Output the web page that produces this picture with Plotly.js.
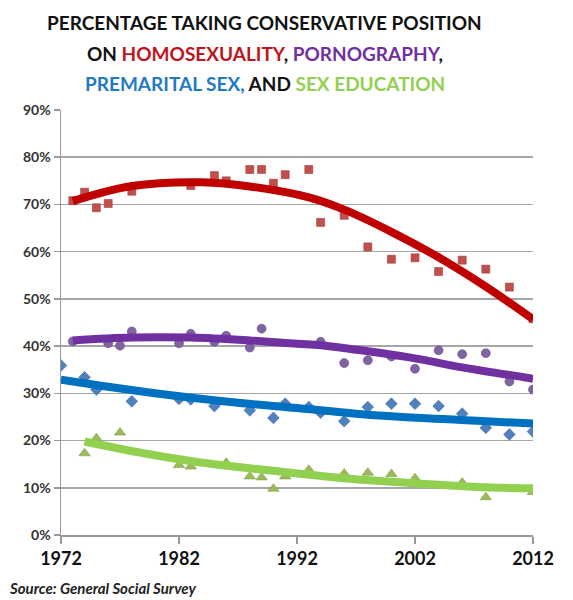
<!DOCTYPE html>
<html>
<head>
<meta charset="utf-8">
<script src="https://cdn.plot.ly/plotly-3.0.1.min.js"></script>
<style>html,body{margin:0;padding:0;background:#fff;}#chart{width:573px;height:600px;}</style>
</head>
<body>
<div id="chart"></div>
<script>
// ---- Data (percent) ----
const homoYears = [1973,1974,1975,1976,1978,1983,1985,1986,1988,1989,1990,1991,1993,1994,1996,1998,2000,2002,2004,2006,2008,2010,2012];
const homoVals  = [70.8,72.6,69.3,70.2,72.8,74.0,76.1,75.0,77.4,77.4,74.5,76.3,77.4,66.2,67.7,61.0,58.4,58.7,55.8,58.2,56.3,52.5,45.8];
const homoTrendYears = [1973,1978,1984,1988,1993,1996,2000,2004,2008,2012];
const homoTrendVals  = [70.7,73.9,74.7,73.8,71.5,68.9,64.2,58.8,52.6,45.7];

const pornYears = [1973,1976,1977,1978,1982,1983,1985,1986,1988,1989,1994,1996,1998,2000,2002,2004,2006,2008,2010,2012];
const pornVals  = [41.0,40.6,40.1,43.1,40.6,42.6,40.9,42.2,39.7,43.7,40.9,36.4,37.0,37.8,35.2,39.1,38.3,38.5,32.5,30.8];
const pornTrendYears = [1973,1978,1983,1988,1992,1994,1998,2002,2006,2012];
const pornTrendVals  = [41.2,41.8,41.8,41.2,40.5,40.2,38.9,37.4,35.5,33.1];

const premYears = [1972,1974,1975,1978,1982,1983,1985,1988,1990,1991,1993,1994,1996,1998,2000,2002,2004,2006,2008,2010,2012];
const premVals  = [35.9,33.4,30.8,28.3,28.8,28.7,27.3,26.4,24.8,27.8,27.1,25.9,24.1,27.1,27.8,27.8,27.3,25.7,22.7,21.3,21.9];
const premTrendYears = [1972,1976,1981,1987,1992,1997,2003,2008,2012];
const premTrendVals  = [32.9,31.4,29.7,28.0,26.9,25.7,24.7,24.1,23.6];

const eduYears = [1974,1975,1977,1982,1983,1986,1988,1989,1990,1991,1993,1996,1998,2000,2002,2006,2008,2012];
const eduVals  = [17.3,20.5,21.7,14.8,14.5,15.3,12.4,12.2,9.8,12.4,13.8,13.0,13.2,12.9,12.0,11.1,8.0,9.1];
const eduTrendYears = [1974,1979,1984,1990,1997,2003,2008,2012];
const eduTrendVals  = [19.8,17.3,15.3,13.6,11.8,10.8,10.1,9.9];

const xTicks = [1972,1982,1992,2002,2012];

const FONT = 'Lato, "Open Sans", "DejaVu Sans", sans-serif';

function pts(x, y, symbol, color, border, size) {
  return {x: x, y: y, type: 'scatter', mode: 'markers', hoverinfo: 'x+y',
    marker: {symbol: symbol, color: color, size: size, line: {color: border, width: 0.6}}};
}
function trend(x, y, color) {
  return {x: x, y: y, type: 'scatter', mode: 'lines', hoverinfo: 'skip',
    line: {color: color, width: 8, shape: 'spline', smoothing: 1.0}};
}

const data = [
  pts(homoYears, homoVals, 'square', '#c0504d', '#a53e3b', 8),
  pts(pornYears, pornVals, 'circle', '#8064a2', '#6a5089', 9),
  pts(premYears, premVals, 'diamond', '#4f81bd', '#3e6ca3', 9),
  pts(eduYears, eduVals, 'triangle-up', '#9bbb59', '#7f9c44', 10),
  trend(homoTrendYears, homoTrendVals, '#c00000'),
  trend(pornTrendYears, pornTrendVals, '#7030a0'),
  trend(premTrendYears, premTrendVals, '#0070c0'),
  trend(eduTrendYears, eduTrendVals, '#92d050')
];

const titleFont = {family: FONT, size: 19, color: '#111'};
const layout = {
  width: 573, height: 600,
  margin: {l: 61, r: 40, t: 110, b: 65},
  paper_bgcolor: '#fff', plot_bgcolor: '#fff',
  showlegend: false,
  font: {family: FONT},
  xaxis: {
    range: [1972, 2012], tickvals: xTicks, ticktext: xTicks.map(String),
    showgrid: false, zeroline: false, showline: true, linecolor: '#999', linewidth: 1.5,
    ticks: 'outside', ticklen: 7, tickcolor: '#999', tickwidth: 1.5,
    tickfont: {family: FONT, size: 18, color: '#111', weight: 'bold'}
  },
  yaxis: {
    range: [0, 90], dtick: 10, ticksuffix: '%',
    showgrid: true, gridcolor: '#a6a6a6', gridwidth: 1.5, zeroline: false,
    showline: true, linecolor: '#999', linewidth: 1.5,
    ticks: 'outside', ticklen: 6, tickcolor: '#999', tickwidth: 1.5,
    tickfont: {family: FONT, size: 14, color: '#333', weight: 'bold'}
  },
  annotations: [
    {xref: 'paper', yref: 'paper', x: 0.432, y: 1.207, xanchor: 'center', yanchor: 'middle', showarrow: false,
     text: '<b>PERCENTAGE TAKING CONSERVATIVE POSITION</b>', font: titleFont},
    {xref: 'paper', yref: 'paper', x: 0.432, y: 1.134, xanchor: 'center', yanchor: 'middle', showarrow: false,
     text: '<b>ON <span style="color:#c0141c">HOMOSEXUALITY</span>, <span style="color:#7030a0">PORNOGRAPHY</span>,</b>', font: titleFont},
    {xref: 'paper', yref: 'paper', x: 0.432, y: 1.063, xanchor: 'center', yanchor: 'middle', showarrow: false,
     text: '<b><span style="color:#1f7bc4">PREMARITAL SEX,</span> AND <span style="color:#92d050">SEX EDUCATION</span></b>', font: titleFont},
    {xref: 'paper', yref: 'paper', x: -0.114, y: -0.125, xanchor: 'left', yanchor: 'middle', showarrow: false,
     text: '<b><i>Source: General Social Survey</i></b>', font: {family: FONT, size: 15, color: '#222'}}
  ]
};

Plotly.newPlot('chart', data, layout, {displayModeBar: false, staticPlot: true});
</script>
</body>
</html>
